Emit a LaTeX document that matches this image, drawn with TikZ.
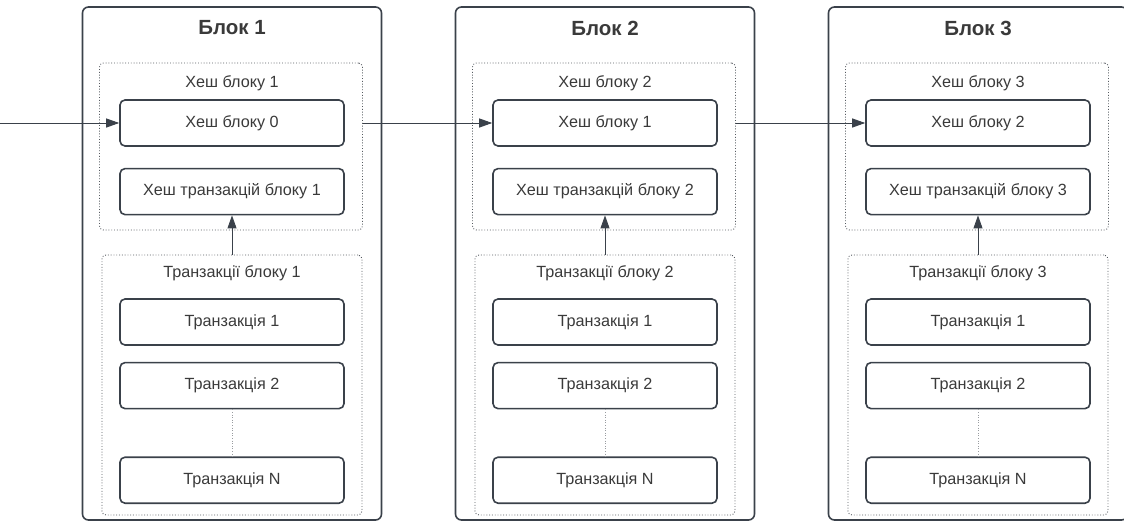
\documentclass[tikz,border=0pt]{standalone}
\usepackage{fontspec}
\setmainfont{Liberation Sans}
\usepackage{xcolor}
\definecolor{colorLine}{HTML}{3A414A}
\definecolor{colorText}{HTML}{3A3A3A}
\definecolor{colorDots}{HTML}{555A60}
\usepackage{tikz}
\usetikzlibrary{arrows.meta, positioning}
\tikzset{
  blockframe/.style={draw=colorLine, line width=1.6pt, rounded corners=6pt, minimum width=299pt, minimum height=513pt},
  groupframe/.style={draw=colorDots, line width=0.9pt, dash pattern=on 0.9pt off 1.9pt, rounded corners=4pt},
  itembox/.style={draw=colorLine, line width=1.6pt, rounded corners=5pt, minimum width=224pt, minimum height=46pt, text=colorText, font=\fontsize{16.2}{19}\selectfont},
  grouplabel/.style={text=colorText, font=\fontsize{16.2}{19}\selectfont},
  blocktitle/.style={text=colorText, font=\fontsize{20.5}{24}\selectfont\bfseries},
  link/.style={draw=colorLine, line width=0.9pt},
  gap/.style={draw=colorDots!60, line width=0.9pt, dash pattern=on 0.8pt off 1.8pt}
}

\begin{document}
\begin{tikzpicture}[x=1pt, y=-1pt, >={Triangle[length=13pt, width=9pt]}]
\useasboundingbox (0,0) rectangle (1124,522);
% block 1
\node[blockframe] (blk1) at (232,263.5) {};
\node[blocktitle] (ttl1) at (232,28) {Блок 1};
\node[groupframe, minimum width=263pt, minimum height=167pt] (hgrp1) at (231,146.5) {};
\node[grouplabel] (hlbl1) at (232,83) {Хеш блоку 1};
\node[itembox] (prev1) at (232,123) {Хеш блоку 0};
\node[itembox, below=21pt of prev1] (txh1) {Хеш транзакцій блоку 1};
\node[groupframe, minimum width=260pt, minimum height=260pt] (tgrp1) at (232,385) {};
\node[grouplabel] (tlbl1) at (232,273) {Транзакції блоку 1};
\node[itembox] (txa1) at (232,322) {Транзакція 1};
\node[itembox, below=16pt of txa1] (txb1) {Транзакція 2};
\node[itembox, below=47pt of txb1] (txn1) {Транзакція N};
% block 2
\node[blockframe] (blk2) at (605,263.5) {};
\node[blocktitle] (ttl2) at (605,28) {Блок 2};
\node[groupframe, minimum width=263pt, minimum height=167pt] (hgrp2) at (604,146.5) {};
\node[grouplabel] (hlbl2) at (605,83) {Хеш блоку 2};
\node[itembox] (prev2) at (605,123) {Хеш блоку 1};
\node[itembox, below=21pt of prev2] (txh2) {Хеш транзакцій блоку 2};
\node[groupframe, minimum width=260pt, minimum height=260pt] (tgrp2) at (605,385) {};
\node[grouplabel] (tlbl2) at (605,273) {Транзакції блоку 2};
\node[itembox] (txa2) at (605,322) {Транзакція 1};
\node[itembox, below=16pt of txa2] (txb2) {Транзакція 2};
\node[itembox, below=47pt of txb2] (txn2) {Транзакція N};
% block 3
\node[blockframe] (blk3) at (978,263.5) {};
\node[blocktitle] (ttl3) at (978,28) {Блок 3};
\node[groupframe, minimum width=263pt, minimum height=167pt] (hgrp3) at (977,146.5) {};
\node[grouplabel] (hlbl3) at (978,83) {Хеш блоку 3};
\node[itembox] (prev3) at (978,123) {Хеш блоку 2};
\node[itembox, below=21pt of prev3] (txh3) {Хеш транзакцій блоку 3};
\node[groupframe, minimum width=260pt, minimum height=260pt] (tgrp3) at (978,385) {};
\node[grouplabel] (tlbl3) at (978,273) {Транзакції блоку 3};
\node[itembox] (txa3) at (978,322) {Транзакція 1};
\node[itembox, below=16pt of txa3] (txb3) {Транзакція 2};
\node[itembox, below=47pt of txb3] (txn3) {Транзакція N};
% links
\coordinate (entry) at (0,123);
\draw[link, ->] (entry) -- (prev1.west);
\draw[link, ->] (hgrp1.east |- prev1) -- (prev2.west);
\draw[link, ->] (hgrp2.east |- prev2) -- (prev3.west);
\draw[link, ->] (tgrp1.north) -- (txh1.south);
\draw[link, ->] (tgrp2.north) -- (txh2.south);
\draw[link, ->] (tgrp3.north) -- (txh3.south);
\draw[gap] (txb1.south) -- (txn1.north);
\draw[gap] (txb2.south) -- (txn2.north);
\draw[gap] (txb3.south) -- (txn3.north);
\end{tikzpicture}
\end{document}
